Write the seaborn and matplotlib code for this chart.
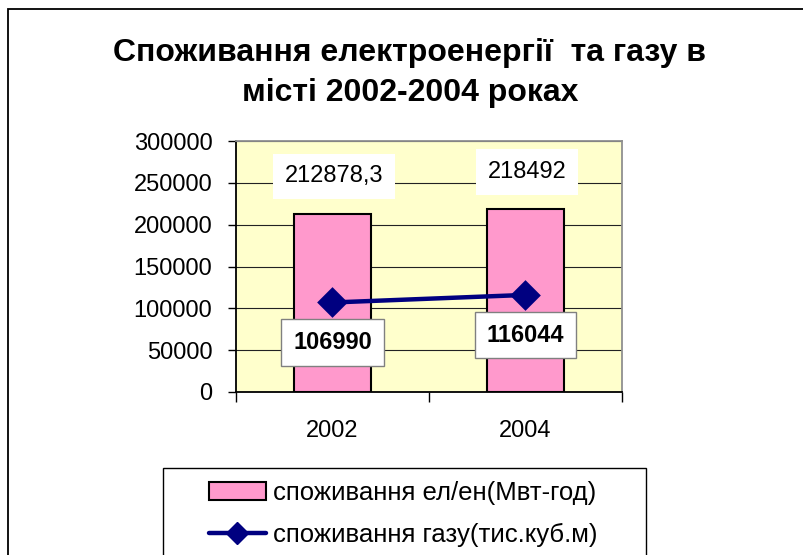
import matplotlib
matplotlib.use("Agg")
import matplotlib.pyplot as plt
import seaborn as sns
import pandas as pd
from matplotlib.patches import Rectangle, Patch
from matplotlib.lines import Line2D

years = ["2002", "2004"]
electricity = [212878.3, 218492]
gas = [106990, 116044]
elec_labels = ["212878,3", "218492"]
gas_labels = ["106990", "116044"]
yticks = [0, 50000, 100000, 150000, 200000, 250000, 300000]
title = "Споживання електроенергії  та газу в\nмісті 2002-2004 роках"
legend_labels = ["споживання ел/ен(Мвт-год)", "споживання газу(тис.куб.м)"]

sns.set_theme(style="white")
plt.rcParams['font.family'] = ['Liberation Sans', 'DejaVu Sans']
plt.rcParams['text.color'] = 'black'
plt.rcParams['xtick.color'] = 'black'
plt.rcParams['ytick.color'] = 'black'

W, H = 804, 555
fig = plt.figure(figsize=(W / 100, H / 100), dpi=100)
fig.patch.set_facecolor("white")
ax = fig.add_axes([236 / W, 1 - 392 / H, 386 / W, 251 / H])

df = pd.DataFrame({"year": years, "elec": electricity, "gas": gas})
sns.barplot(data=df, x="year", y="elec", color="#FF99CC", saturation=1,
            width=0.4, edgecolor="black", linewidth=1.5, ax=ax, zorder=2)
sns.pointplot(data=df, x="year", y="gas", color="#000080", markers="D",
              linestyles="-", errorbar=None, ax=ax, markersize=13,
              linewidth=3.2, zorder=3)

ax.set_xlim(-0.5, 1.5)
ax.set_ylim(0, 300000)
ax.set_facecolor("#FFFFCC")
ax.set_yticks(yticks)
ax.set_yticklabels([str(v) for v in yticks])
ax.yaxis.grid(True, color="#222222", lw=0.8)
ax.xaxis.grid(False)
ax.set_axisbelow(True)
ax.set_xlabel("")
ax.set_ylabel("")

for s in ["left", "bottom"]:
    ax.spines[s].set_color("black")
    ax.spines[s].set_linewidth(1.3)
for s in ["top", "right"]:
    ax.spines[s].set_color("#909090")
    ax.spines[s].set_linewidth(1.3)

ax.tick_params(axis="y", direction="out", left=True, length=6, width=1,
               color="black", pad=11, labelsize=17, labelcolor="black")
ax.set_xticks([0, 1])
ax.set_xticklabels(years)
ax.set_xticks([-0.5, 0.5, 1.5], minor=True)
ax.tick_params(axis="x", which="major", length=0, pad=20, labelsize=17,
               labelcolor="black")
ax.tick_params(axis="x", which="minor", bottom=True, direction="out",
               length=7, width=1, color="black")

for i in range(len(years)):
    ax.annotate(elec_labels[i], (i, electricity[i]), xytext=(1, 27),
                textcoords="offset points", ha="center", va="center",
                fontsize=17, color="black", zorder=5,
                bbox=dict(boxstyle="square,pad=0.5", fc="white", ec="none"))
    ax.annotate(gas_labels[i], (i, gas[i]), xytext=(0, -29),
                textcoords="offset points", ha="center", va="center",
                fontsize=17, fontweight="bold", color="black", zorder=5,
                bbox=dict(boxstyle="square,pad=0.5", fc="white",
                          ec="#808080", lw=1))

fig.text(410 / W, 1 - 73 / H, title, ha="center", va="center",
         fontsize=23, fontweight="bold", linespacing=1.45, color="black")

# outer chart frame
fig.patches.append(Rectangle((8 / W, -0.1), 1.2, 1 - 9 / H + 0.1,
                             transform=fig.transFigure, fill=False,
                             ec="black", lw=1.3))
# legend frame
fig.patches.append(Rectangle((163 / W, -0.1), 483 / W, 1 - 468 / H + 0.1,
                             transform=fig.transFigure, fill=False,
                             ec="black", lw=1.0))

handles = [Patch(facecolor="#FF99CC", edgecolor="black", lw=1.5),
           Line2D([0], [0], color="#000080", lw=3.2, marker="D",
                  markersize=11)]
fig.legend(handles, legend_labels, loc="upper left",
           bbox_to_anchor=(209 / W, 1 - 481 / H), frameon=False,
           fontsize=18.5, handlelength=2.2, handletextpad=0.3,
           labelspacing=0.7, borderpad=0, borderaxespad=0)

fig.savefig("out.png", dpi=100)
